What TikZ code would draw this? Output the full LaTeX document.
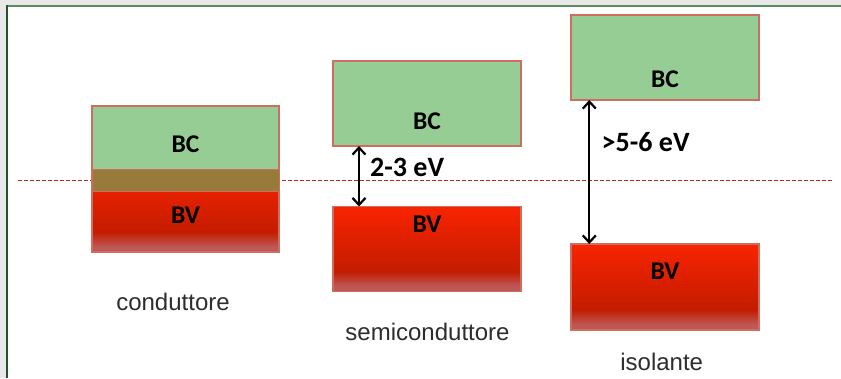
\documentclass[tikz,border=0pt]{standalone}
\usepackage{fontspec}
\newfontfamily\bandfont{Carlito}
\newfontfamily\capfont{Liberation Sans}
\definecolor{bcgreen}{RGB}{149,205,149}
\definecolor{bvtop}{RGB}{248,36,0}
\definecolor{bvlow}{RGB}{196,28,0}
\definecolor{bvfade}{RGB}{190,88,86}
\definecolor{bandedge}{RGB}{206,110,96}
\definecolor{overlapbrown}{RGB}{152,122,58}
\definecolor{fermired}{RGB}{190,40,36}
\definecolor{framegreen}{RGB}{90,140,95}
\definecolor{framedark}{RGB}{35,85,40}
\definecolor{slidegrey}{RGB}{232,232,232}
\definecolor{captiongrey}{RGB}{45,45,45}
\usetikzlibrary{arrows.meta,positioning}
\pgfdeclareverticalshading{bvshade}{100bp}{color(0bp)=(bvfade); color(28bp)=(bvfade);
    color(37bp)=(bvlow); color(75bp)=(bvtop); color(100bp)=(bvtop)}

\begin{document}
\begin{tikzpicture}[x=1pt, y=-1pt,
    bandbox/.style={draw=bandedge, line width=1.2pt, minimum width=187pt,
          minimum height=85pt, inner sep=0pt, outer sep=0pt},
    bcbox/.style={bandbox, fill=bcgreen},
    bvbox/.style={bandbox, shade, shading=bvshade},
    bandtxt/.style={font=\bandfont\bfseries\fontsize{25.5}{30}\selectfont, inner sep=0pt},
    gaptxt/.style={font=\bandfont\bfseries\fontsize{28}{32}\selectfont, inner sep=0pt, anchor=west},
    captxt/.style={font=\capfont\fontsize{24}{28}\selectfont, text=captiongrey, inner sep=0pt},
    gaparrow/.style={{Straight Barb[length=7pt,width=13pt]}-{Straight Barb[length=7pt,width=13pt]},
          line width=2.2pt},
    fermi/.style={fermired, line width=0.9pt, dash pattern=on 4pt off 2pt}]
    \useasboundingbox (0,0) rectangle (841,378);
    % slide frame
    \fill[slidegrey] (0,0) rectangle (841,378);
    \fill[white] (7,6) rectangle (841,378);
    \draw[framegreen, line width=1.4pt] (7,6) -- (841,6);
    \draw[framedark, line width=1.8pt] (7,378) -- (7,5.3);

    % Fermi level
    \coordinate (fermiL) at (18,180);
    \coordinate (fermiR) at (833,180);
    \draw[fermi] (fermiL) -- (fermiR);

    % conduttore
    \node[bvbox, minimum height=83pt] (cBV) at (185.5,210.5) {};
    \node[bcbox] (cBC) at (185.5,148.5) {};
    \filldraw[fill=overlapbrown, draw=bandedge, line width=0.6pt] (cBC.south west) rectangle (cBV.north east);
    \node[bandtxt, above=16.5pt of cBV.north] (cBCtxt) {BC};
    \node[bandtxt, below=15.5pt of cBC.south] (cBVtxt) {BV};
    \node[captxt] (cCap) at (173,301.5) {conduttore};

    % semiconduttore
    \node[bcbox, minimum width=188pt] (sBC) at (427,103.5) {};
    \node[bvbox, minimum width=188pt] (sBV) at (427,249) {};
    \node[bandtxt, above=16.3pt of sBC.south] (sBCtxt) {BC};
    \node[bandtxt, below=9.5pt of sBV.north] (sBVtxt) {BV};
    \draw[gaparrow] ([xshift=-68pt]sBC.south) -- ([xshift=-68pt]sBV.north);
    \node[gaptxt] (sGap) at (370,167) {2-3 eV};
    \node[captxt] (sCap) at (427.5,332) {semiconduttore};

    % isolante
    \node[bcbox, minimum width=188pt] (iBC) at (665,57.5) {};
    \node[bvbox, minimum width=188pt, minimum height=86pt] (iBV) at (665,287) {};
    \node[bandtxt, above=12.5pt of iBC.south] (iBCtxt) {BC};
    \node[bandtxt, below=19pt of iBV.north] (iBVtxt) {BV};
    \draw[gaparrow] ([xshift=-75.7pt]iBC.south) -- ([xshift=-75.7pt]iBV.north);
    \node[gaptxt] (iGap) at (601.5,142.5) {>5-6 eV};
    \node[captxt] (iCap) at (661.7,362) {isolante};
\end{tikzpicture}
\end{document}
